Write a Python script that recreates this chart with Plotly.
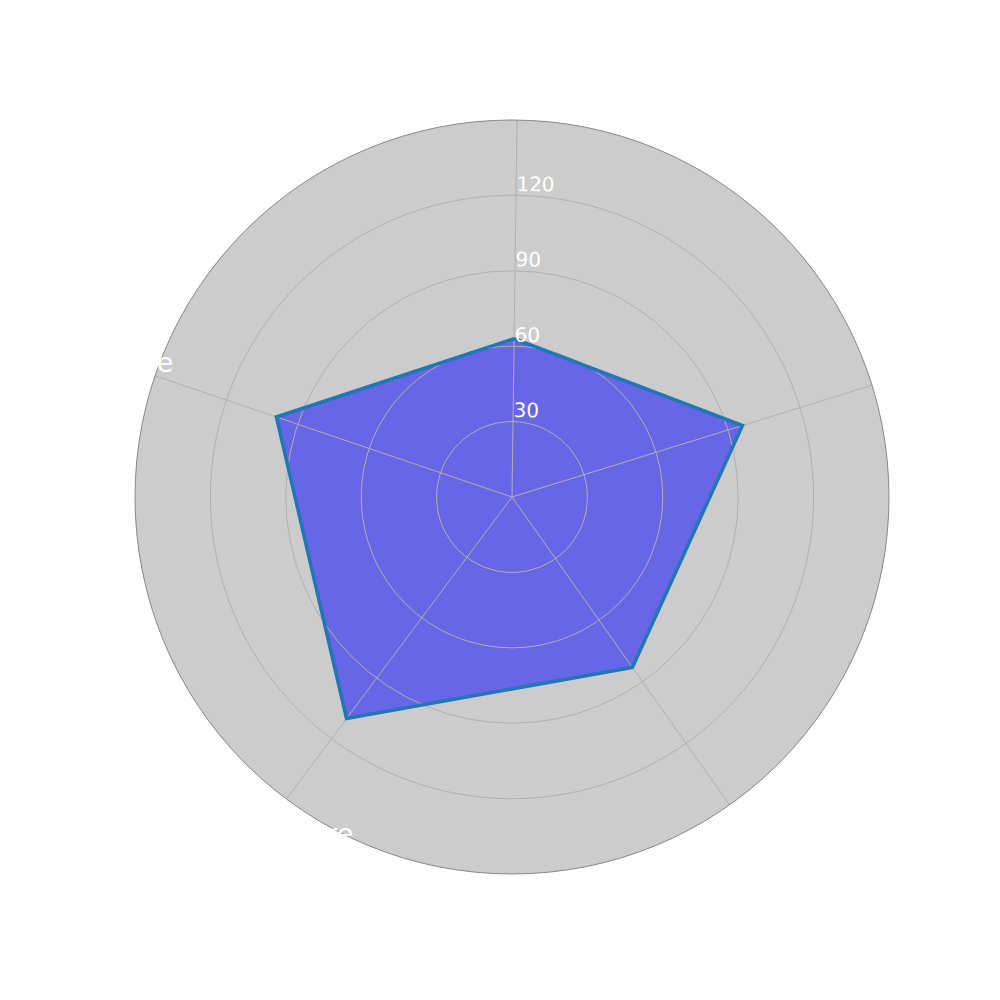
import plotly.graph_objects as go

categories = ["Attack", "Speed", "Stamina", "Signature", "Defense"]
values = [63, 96, 83, 110, 99]
radial_ticks = [30, 60, 90, 120]
r_max = 150

theta = categories + [categories[0]]
r = values + [values[0]]

fig = go.Figure()
# filled area (below the grid)
fig.add_trace(go.Scatterpolar(
    r=r, theta=theta, mode="lines", fill="toself",
    fillcolor="rgba(0,0,255,0.5)",
    line=dict(color="rgba(0,0,0,0)", width=0),
    showlegend=False, subplot="polar",
))
# outline (above the grid)
fig.add_trace(go.Scatterpolar(
    r=r, theta=theta, mode="lines",
    line=dict(color="#1f77b4", width=3.5),
    showlegend=False, subplot="polar2",
))
# carrier for the radial tick labels (drawn on top)
fig.add_trace(go.Scatterpolar(
    r=r, theta=theta, mode="lines", opacity=0, hoverinfo="skip",
    showlegend=False, subplot="polar3",
))

dom = dict(x=[0, 1], y=[0, 1])
lift = 0.0146  # tick labels sit a little above their circles
dom3 = dict(x=[0, 1], y=[2 * lift, 1])

fig.update_layout(
    width=1000, height=1000,
    paper_bgcolor="white",
    margin=dict(l=127, r=119, t=112, b=134),
    polar=dict(
        domain=dom,
        bgcolor="#cccccc",
        angularaxis=dict(rotation=89.24, direction="clockwise",
                         type="category", categoryarray=categories,
                         showgrid=False, showline=False, ticks="", showticklabels=False),
        radialaxis=dict(range=[0, r_max], showgrid=False, showline=False,
                        ticks="", showticklabels=False),
    ),
    polar2=dict(
        domain=dom,
        bgcolor="rgba(0,0,0,0)",
        angularaxis=dict(
            rotation=89.24, direction="clockwise",
            type="category", categoryarray=categories,
            gridcolor="#b0b0b0", linecolor="#888888", linewidth=1,
            showline=True, ticks="", showticklabels=False,
        ),
        radialaxis=dict(
            range=[0, r_max], tickvals=radial_ticks,
            gridcolor="#b0b0b0", showline=False, ticks="", showticklabels=False,
            angle=89.24,
        ),
    ),
    polar3=dict(
        domain=dom3,
        bgcolor="rgba(0,0,0,0)",
        angularaxis=dict(
            rotation=89.24, direction="clockwise",
            type="category", categoryarray=categories,
            showgrid=False, showline=False, ticks="", showticklabels=False,
        ),
        radialaxis=dict(
            range=[0, r_max * (1 - 2 * lift)], tickvals=radial_ticks,
            showgrid=False, showline=False, ticks="", tickangle=90,
            tickfont=dict(color="white", size=20, family="DejaVu Sans"),
            angle=89.24,
        ),
    ),
)

# category labels (white, as in the original)
label_font = dict(color="white", size=27, family="DejaVu Sans")
label_pos = [
    (0.512, 1.03, "center", "bottom"),
    (0.99, 0.645, "left", "middle"),
    (0.80, 0.045, "left", "middle"),
    (0.292, 0.054, "right", "middle"),
    (0.053, 0.679, "right", "middle"),
]
for name, (px, py, xa, ya) in zip(categories, label_pos):
    fig.add_annotation(text=name, x=px, y=py, xref="paper", yref="paper",
                       xanchor=xa, yanchor=ya, showarrow=False, font=label_font)

fig.write_html("out.html")
